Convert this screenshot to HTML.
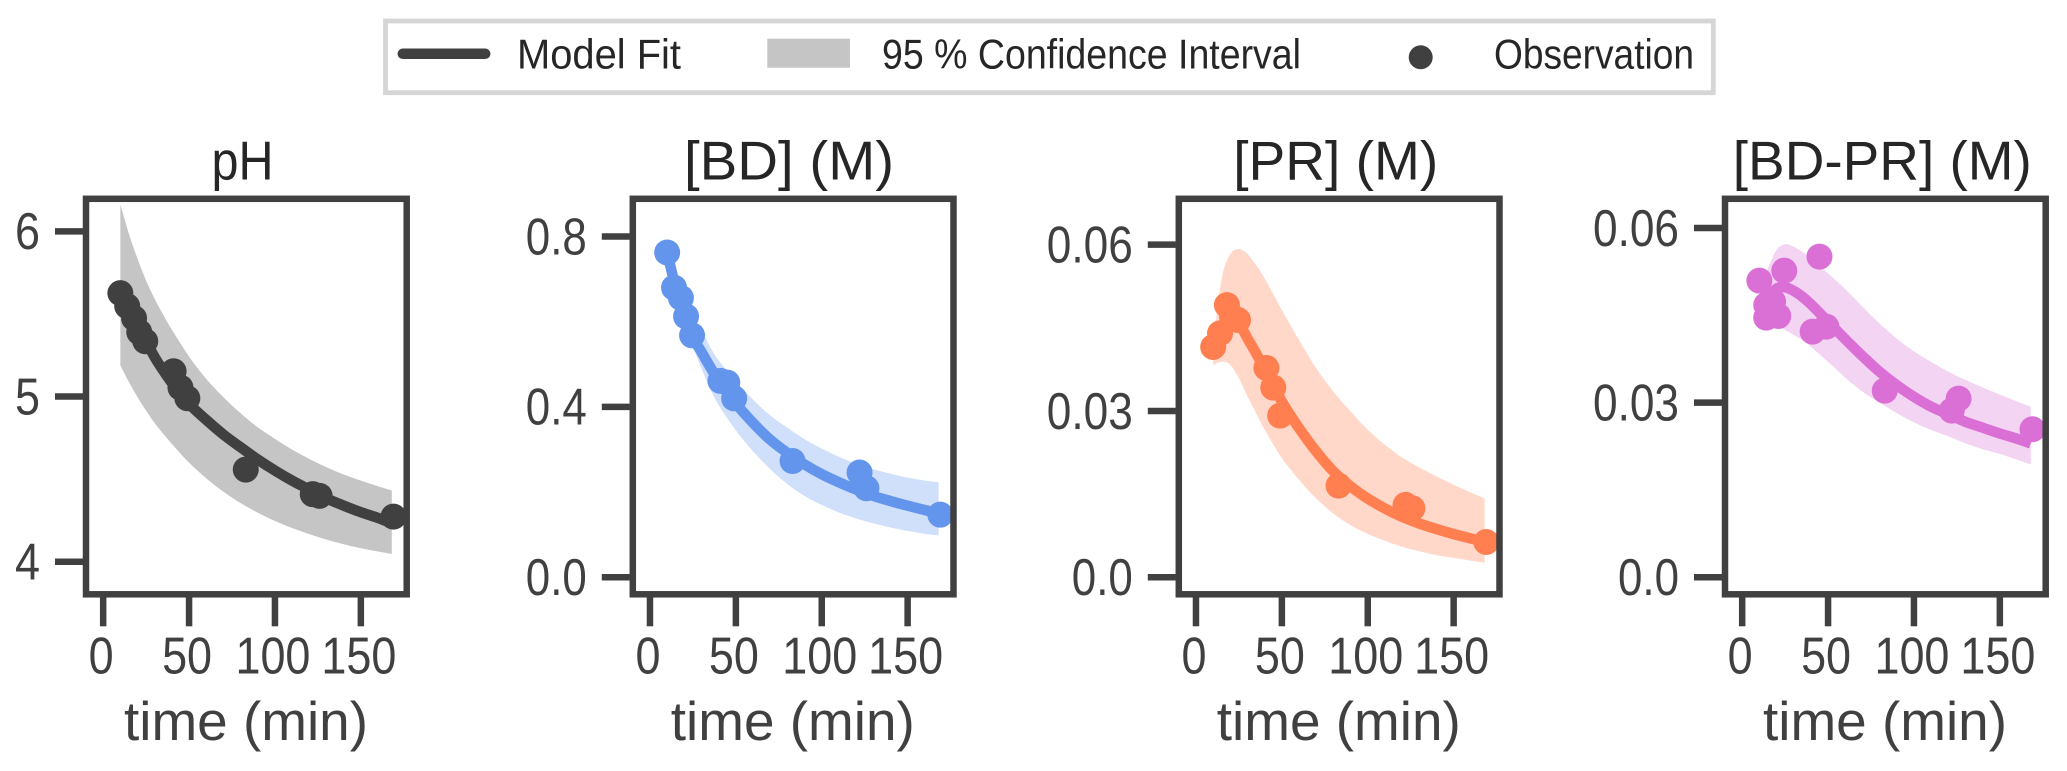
<!DOCTYPE html>
<html lang="en">
<head>
<meta charset="utf-8">
<title>Model fit panels</title>
<style>
  html, body { margin: 0; padding: 0; background: #fff; }
  svg { display: block; }
  text { font-family: "Liberation Sans", sans-serif; }
</style>
</head>
<body>
<svg id="chart" xmlns="http://www.w3.org/2000/svg" width="2067" height="771" viewBox="0 0 2067 771">
  <rect x="0" y="0" width="2067" height="771" fill="#ffffff"/>
  <g>
    <rect x="385.5" y="21" width="1327.8" height="71.7" fill="#ffffff" stroke="#d6d6d6" stroke-width="4.8"/>
    <line x1="402.8" y1="53.8" x2="485.2" y2="53.8" stroke="#404040" stroke-width="10.5" stroke-linecap="round"/>
    <text x="517" y="68.3" font-size="42" fill="#262626" textLength="164" lengthAdjust="spacingAndGlyphs">Model Fit</text>
    <rect x="767.3" y="38.7" width="82.7" height="29" fill="#404040" fill-opacity="0.3"/>
    <text x="882" y="68.3" font-size="42" fill="#262626" textLength="419" lengthAdjust="spacingAndGlyphs">95 % Confidence Interval</text>
    <circle cx="1420.7" cy="57.3" r="12" fill="#404040"/>
    <text x="1494" y="68.3" font-size="42" fill="#262626" textLength="200" lengthAdjust="spacingAndGlyphs">Observation</text>
  </g>
</svg>
<script>
// ---- shared values ----
const modelTimes = [10,15,20,25,30,35,40,50,60,70,80,90,100,110,120,130,140,150,160,168];
const obsTimes = [10,14,18,21,24.5,41,45,49,83,122,126,169];
const obsTimesBdPr = [10,14,14,18,21,24.5,41,45,49,83,122,126,169];
const xTicks = [0,50,100,150];
const xTickLabels = ['0','50','100','150'];

// ---- pH ----
const phMean = [5.626,5.521,5.420,5.335,5.238,5.157,5.083,4.956,4.859,4.770,4.693,4.619,4.552,4.491,4.437,4.384,4.340,4.300,4.265,4.233];
const phUpper = [6.162,5.985,5.834,5.702,5.591,5.494,5.404,5.242,5.107,4.996,4.899,4.814,4.744,4.679,4.623,4.572,4.528,4.491,4.457,4.431];
const phLower = [5.188,5.087,4.996,4.915,4.839,4.774,4.713,4.600,4.505,4.424,4.355,4.297,4.247,4.204,4.167,4.134,4.106,4.082,4.062,4.047];
const phObs = [5.626,5.547,5.474,5.39,5.335,5.153,5.054,4.99,4.558,4.409,4.399,4.273];
const phTicks = [4,5,6];
const phTickLabels = ['4','5','6'];

// ---- [BD] ----
const bdMean = [.7625,.681,.623,.564,.529,.494,.4625,.408,.3625,.323,.292,.265,.242,.223,.206,.191,.179,.168,.158,.15];
const bdUpper = [.7625,.689,.634,.603,.580,.541,.509,.461,.417,.380,.351,.324,.302,.283,.267,.254,.243,.234,.227,.223];
const bdLower = [.7625,.673,.607,.541,.490,.443,.404,.345,.296,.254,.219,.191,.170,.152,.138,.127,.117,.109,.102,.098];
const bdObs = [.7625,.680,.656,.6125,.568,.461,.457,.420,.273,.246,.209,.147];
const bdTicks = [0,0.4,0.8];
const bdTickLabels = ['0.0','0.4','0.8'];

// ---- [PR] ----
const prMean = [.0413,.0446,.0473,.0458,.0431,.0404,.0375,.0317,.0269,.0227,.0191,.0164,.0142,.0124,.0109,.0097,.0087,.0078,.0070,.0064];
const prUpper = [.0422,.0539,.0583,.0592,.0583,.0563,.0539,.0482,.0428,.0377,.0335,.0299,.0266,.0239,.0216,.0198,.0182,.0167,.0153,.0142];
const prLower = [.0383,.0389,.0383,.0359,.0326,.0296,.0266,.0215,.0176,.0142,.0115,.0094,.0078,.0066,.0055,.0047,.0040,.0035,.0030,.0026];
const prObs = [.04154,.0440,.0491,.0470,.0464,.03776,.03421,.02916,.01653,.01305,.01245,.00637];
const prTicks = [0,0.03,0.06];
const prTickLabels = ['0.0','0.03','0.06'];

// ---- [BD-PR] ----
const bdprMean = [.0456,.0479,.0496,.0498,.0492,.0482,.0469,.0439,.0409,.0380,.0353,.0330,.0310,.0293,.0280,.0267,.0257,.0247,.0238,.0230];
const bdprUpper = [.0488,.0531,.0562,.0572,.0568,.0559,.0548,.0522,.0495,.0465,.0436,.0410,.0388,.0370,.0353,.0339,.0326,.0314,.0302,.0293];
const bdprLower = [.0448,.0439,.0431,.0425,.0416,.0408,.0396,.0370,.0343,.0319,.0300,.0282,.0266,.0253,.0242,.0230,.0220,.0212,.0202,.0194];
const bdprObs = [.05095,.0446,.04677,.04735,.04488,.05267,.0422,.05508,.04305,.03206,.02863,.03069,.02542];
const bdprTicks = [0,0.03,0.06];
const bdprTickLabels = ['0.0','0.03','0.06'];

const SVG_NS = 'http://www.w3.org/2000/svg';
const svg = document.getElementById('chart');
const PLOT_TOP = 198.8, PLOT_BOTTOM = 594.3, PLOT_WIDTH = 320.7;
const X_MIN = -10, X_MAX = 176.7;
const INK = '#404040';

function make(parent, tag, attrs, content) {
  const el = document.createElementNS(SVG_NS, tag);
  for (const k in attrs) el.setAttribute(k, attrs[k]);
  if (content !== undefined) el.textContent = content;
  parent.appendChild(el);
  return el;
}
// Cubic Hermite through the points, with slopes from neighbouring x spacing.
function smoothPath(pts, start) {
  const slope = i => {
    const a = pts[Math.max(i - 1, 0)], b = pts[Math.min(i + 1, pts.length - 1)];
    return (b[1] - a[1]) / (b[0] - a[0]);
  };
  let d = (start ? 'M' : 'L') + pts[0][0].toFixed(2) + ' ' + pts[0][1].toFixed(2);
  for (let i = 0; i < pts.length - 1; i++) {
    const p1 = pts[i], p2 = pts[i + 1], dx = (p2[0] - p1[0]) / 3;
    const c1x = p1[0] + dx, c1y = p1[1] + slope(i) * dx;
    const c2x = p2[0] - dx, c2y = p2[1] - slope(i + 1) * dx;
    d += 'C' + c1x.toFixed(2) + ' ' + c1y.toFixed(2) + ' ' + c2x.toFixed(2) + ' ' + c2y.toFixed(2) + ' ' + p2[0].toFixed(2) + ' ' + p2[1].toFixed(2);
  }
  return d;
}
function labelWidth(s) {
  let w = 0;
  for (const ch of s) w += ch === '.' ? 11 : 25;
  return w;
}

function drawPanel(p) {
  const g = make(svg, 'g', {});
  
  
  const x = v => p.left + (v - X_MIN) / (X_MAX - X_MIN) * PLOT_WIDTH;
  const y = v => PLOT_BOTTOM - (v - p.yMin) / (p.yMax - p.yMin) * (PLOT_BOTTOM - PLOT_TOP);

  const clip = make(g, 'clipPath', { id: 'clip-' + p.key });
  make(clip, 'rect', { x: p.left, y: PLOT_TOP, width: PLOT_WIDTH, height: PLOT_BOTTOM - PLOT_TOP });
  const plot = make(g, 'g', { 'clip-path': 'url(#clip-' + p.key + ')' });
  
  

  const up = modelTimes.map((t, i) => [x(t), y(p.upper[i])]);
  const lowRev = modelTimes.map((t, i) => [x(t), y(p.lower[i])]).reverse();
  const band = make(plot, 'path', { d: smoothPath(up, true) + smoothPath(lowRev, false) + 'Z', fill: p.color, 'fill-opacity': 0.3 });
  
  

  const fit = make(plot, 'path', { d: smoothPath(modelTimes.map((t, i) => [x(t), y(p.mean[i])]), true), fill: 'none', stroke: p.color, 'stroke-width': 10.5 });
  
  

  p.obs.forEach((v, i) => {
    const c = make(plot, 'circle', { cx: x(p.obsT[i]), cy: y(v), r: 13, fill: p.color });
    
    
  });

  const frame = make(g, 'rect', { x: p.left, y: PLOT_TOP, width: PLOT_WIDTH, height: PLOT_BOTTOM - PLOT_TOP, fill: 'none', stroke: INK, 'stroke-width': 6.5 });
  
  

  p.yTicks.forEach((v, i) => {
    const tick = make(g, 'line', { x1: p.left - 31, x2: p.left - 3, y1: y(v), y2: y(v), stroke: INK, 'stroke-width': 6.5 });
    
    
    const s = p.yLabels[i];
    const lab = make(g, 'text', { x: p.left - 46, y: y(v) + 17.8, 'text-anchor': 'end', 'font-size': 52, fill: INK, textLength: labelWidth(s), lengthAdjust: 'spacingAndGlyphs' }, s);
    
    
  });

  xTicks.forEach((v, i) => {
    const tick = make(g, 'line', { x1: x(v), x2: x(v), y1: PLOT_BOTTOM + 3, y2: PLOT_BOTTOM + 32, stroke: INK, 'stroke-width': 6.5 });
    
    
    const s = xTickLabels[i];
    const lab = make(g, 'text', { x: x(v) - 2, y: 673.3, 'text-anchor': 'middle', 'font-size': 52, fill: INK, textLength: labelWidth(s), lengthAdjust: 'spacingAndGlyphs' }, s);
    
    
  });

  const xt = make(g, 'text', { x: p.left + 160, y: 740, 'text-anchor': 'middle', 'font-size': 55, fill: INK, textLength: 244, lengthAdjust: 'spacingAndGlyphs' }, 'time (min)');
  
  

  const title = make(g, 'text', { x: p.titleX, y: 179.3, 'text-anchor': 'middle', 'font-size': 55, fill: '#262626', textLength: p.titleW, lengthAdjust: 'spacingAndGlyphs' }, p.title);
  
  
}

drawPanel({ key: 'ph', title: 'pH', titleX: 242.5, titleW: 62, left: 86, yMin: 3.803, yMax: 6.197, color: '#404040',
  mean: phMean, upper: phUpper, lower: phLower, obs: phObs, obsT: obsTimes, yTicks: phTicks, yLabels: phTickLabels });
drawPanel({ key: 'bd', title: '[BD] (M)', titleX: 789, titleW: 210, left: 632.8, yMin: -0.0399, yMax: 0.8885, color: '#6495ED',
  mean: bdMean, upper: bdUpper, lower: bdLower, obs: bdObs, obsT: obsTimes, yTicks: bdTicks, yLabels: bdTickLabels });
drawPanel({ key: 'pr', title: '[PR] (M)', titleX: 1335.7, titleW: 205, left: 1178.8, yMin: -0.00307, yMax: 0.06827, color: '#FF7F50',
  mean: prMean, upper: prUpper, lower: prLower, obs: prObs, obsT: obsTimes, yTicks: prTicks, yLabels: prTickLabels });
drawPanel({ key: 'bd-pr', title: '[BD-PR] (M)', titleX: 1882.3, titleW: 299, left: 1725, yMin: -0.00292, yMax: 0.06501, color: '#DA70D6',
  mean: bdprMean, upper: bdprUpper, lower: bdprLower, obs: bdprObs, obsT: obsTimesBdPr, yTicks: bdprTicks, yLabels: bdprTickLabels });
</script>
</body>
</html>
